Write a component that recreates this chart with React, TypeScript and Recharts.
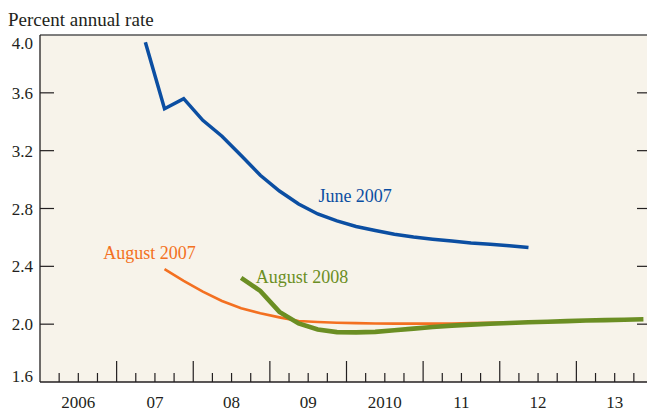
import React from 'react';
import { LineChart, Line, XAxis, YAxis, CartesianGrid, ReferenceDot, ReferenceLine } from 'recharts';

// Quarter midpoints (fractional years)
const quarterTimes = [
  2007.375, 2007.625, 2007.875, 2008.125, 2008.375, 2008.625, 2008.875,
  2009.125, 2009.375, 2009.625, 2009.875, 2010.125, 2010.375, 2010.625,
  2010.875, 2011.125, 2011.375, 2011.625, 2011.875, 2012.125, 2012.375,
  2012.625, 2012.875, 2013.125, 2013.375, 2013.625, 2013.875,
];

const june2007 = [
  3.95, 3.49, 3.56, 3.41, 3.30, 3.166, 3.03, 2.921, 2.831, 2.762, 2.714,
  2.676, 2.648, 2.622, 2.603, 2.588, 2.575, 2.562, 2.552, 2.543, 2.531,
  null, null, null, null, null, null,
];

const august2007 = [
  null, 2.38, 2.30, 2.225, 2.16, 2.11, 2.075, 2.047, 2.022, 2.015, 2.010,
  2.007, 2.005, 2.004, 2.004, 2.004, 2.005, 2.007, 2.009, 2.012, 2.014,
  2.017, null, null, null, null, null,
];

const august2008 = [
  null, null, null, null, null, 2.32, 2.23, 2.085, 2.005, 1.963, 1.945,
  1.943, 1.947, 1.958, 1.969, 1.98, 1.99, 1.997, 2.003, 2.008, 2.013,
  2.017, 2.021, 2.025, 2.028, 2.031, 2.034,
];

const yTicks = [1.6, 2.0, 2.4, 2.8, 3.2, 3.6, 4.0];
const yearLabels = ['2006', '07', '08', '09', '2010', '11', '12', '13'];
const firstYear = 2006;
const lastYear = 2014;

const xTicks: number[] = [];
for (let i = 0; i <= (lastYear - firstYear) * 4; i++) xTicks.push(firstYear + i / 4);

const data = quarterTimes.map((t, i) => ({
  t,
  june2007: june2007[i],
  august2007: august2007[i],
  august2008: august2008[i],
}));

const BLUE = '#0B4EA2';
const ORANGE = '#F37021';
const GREEN = '#6B8E23';
const BG = '#F7F3EA';
const INK = '#231F20';
const FONT = '"Liberation Serif", "Times New Roman", serif';

const CHART_W = 653;
const CHART_H = 411;
const Y_AXIS_W = 40;
const PLOT_RIGHT = CHART_W;

const YTick = (props: any) => {
  const { x, y, payload } = props;
  const v = payload.value;
  const isTop = Math.abs(v - 4.0) < 1e-9;
  const isBottom = Math.abs(v - 1.6) < 1e-9;
  const dy = isTop ? 14 : isBottom ? 0 : 6;
  return (
    <g>
      {!isTop && !isBottom && (
        <>
          <line x1={x} x2={x + 14} y1={y} y2={y} stroke={INK} strokeWidth={1.2} />
          <line x1={PLOT_RIGHT - 16} x2={PLOT_RIGHT} y1={y} y2={y} stroke={INK} strokeWidth={1.2} />
        </>
      )}
      <text x={x - 7} y={y + dy} textAnchor="end" fontSize={17} fontFamily={FONT} fill={INK}>
        {v.toFixed(1)}
      </text>
    </g>
  );
};

const XTick = (props: any) => {
  const { x, y, payload } = props;
  const v = payload.value as number;
  const frac = v - Math.floor(v);
  const isYear = Math.abs(frac) < 1e-9;
  const isMid = Math.abs(frac - 0.5) < 1e-9;
  const idx = Math.floor(v) - firstYear;
  const showLine = v > firstYear && v < lastYear;
  return (
    <g>
      {showLine && (
        <line x1={x} x2={x} y1={y} y2={y - (isYear ? 21 : 9)} stroke={INK} strokeWidth={1.2} />
      )}
      {isMid && idx >= 0 && idx < yearLabels.length && (
        <text x={x} y={y + 26} textAnchor="middle" fontSize={17} fontFamily={FONT} fill={INK}>
          {yearLabels[idx]}
        </text>
      )}
    </g>
  );
};

const seriesLabel = (value: string, color: string) => ({
  value,
  position: 'right' as const,
  offset: 0,
  fill: color,
  fontSize: 18,
  fontFamily: FONT,
});

export default function App() {
  return (
    <div style={{ position: 'absolute', left: 0, top: 0, width: 647, height: 411, overflow: 'hidden', background: '#fff' }}>
      <div
        style={{
          position: 'absolute',
          left: 8,
          top: 9,
          fontFamily: FONT,
          fontSize: 19,
          lineHeight: '21px',
          color: INK,
          whiteSpace: 'nowrap',
        }}
      >
        Percent annual rate
      </div>
      <div style={{ position: 'absolute', left: 0, top: 0 }}>
        <LineChart
          width={CHART_W}
          height={CHART_H}
          data={data}
          margin={{ top: 35, right: 0, bottom: 0, left: 0 }}
        >
          <CartesianGrid horizontal={false} vertical={false} fill={BG} stroke="none" />
          <XAxis
            type="number"
            dataKey="t"
            domain={[firstYear, lastYear]}
            ticks={xTicks}
            interval={0}
            allowDataOverflow
            height={29}
            tickSize={0}
            tickMargin={0}
            tick={<XTick />}
            axisLine={{ stroke: INK, strokeWidth: 1.3 }}
            tickLine={false}
          />
          <YAxis
            type="number"
            domain={[1.6, 4.0]}
            ticks={yTicks}
            interval={0}
            allowDataOverflow
            width={Y_AXIS_W}
            tickSize={0}
            tickMargin={0}
            tick={<YTick />}
            axisLine={{ stroke: INK, strokeWidth: 1.3 }}
            tickLine={false}
          />
          <ReferenceLine y={4.0} stroke="#555" strokeWidth={1.4} ifOverflow="visible" />
          <Line
            type="linear"
            dataKey="june2007"
            stroke={BLUE}
            strokeWidth={3.5}
            dot={false}
            activeDot={false}
            connectNulls={false}
            isAnimationActive={false}
          />
          <Line
            type="linear"
            dataKey="august2007"
            stroke={ORANGE}
            strokeWidth={2.6}
            dot={false}
            activeDot={false}
            connectNulls={false}
            isAnimationActive={false}
          />
          <Line
            type="linear"
            dataKey="august2008"
            stroke={GREEN}
            strokeWidth={4.6}
            dot={false}
            activeDot={false}
            connectNulls={false}
            isAnimationActive={false}
          />
          <ReferenceDot x={2009.633} y={2.892} r={0} ifOverflow="visible" label={seriesLabel('June 2007', BLUE)} />
          <ReferenceDot x={2006.826} y={2.492} r={0} ifOverflow="visible" label={seriesLabel('August 2007', ORANGE)} />
          <ReferenceDot x={2008.816} y={2.332} r={0} ifOverflow="visible" label={seriesLabel('August 2008', GREEN)} />
        </LineChart>
      </div>
    </div>
  );
}
